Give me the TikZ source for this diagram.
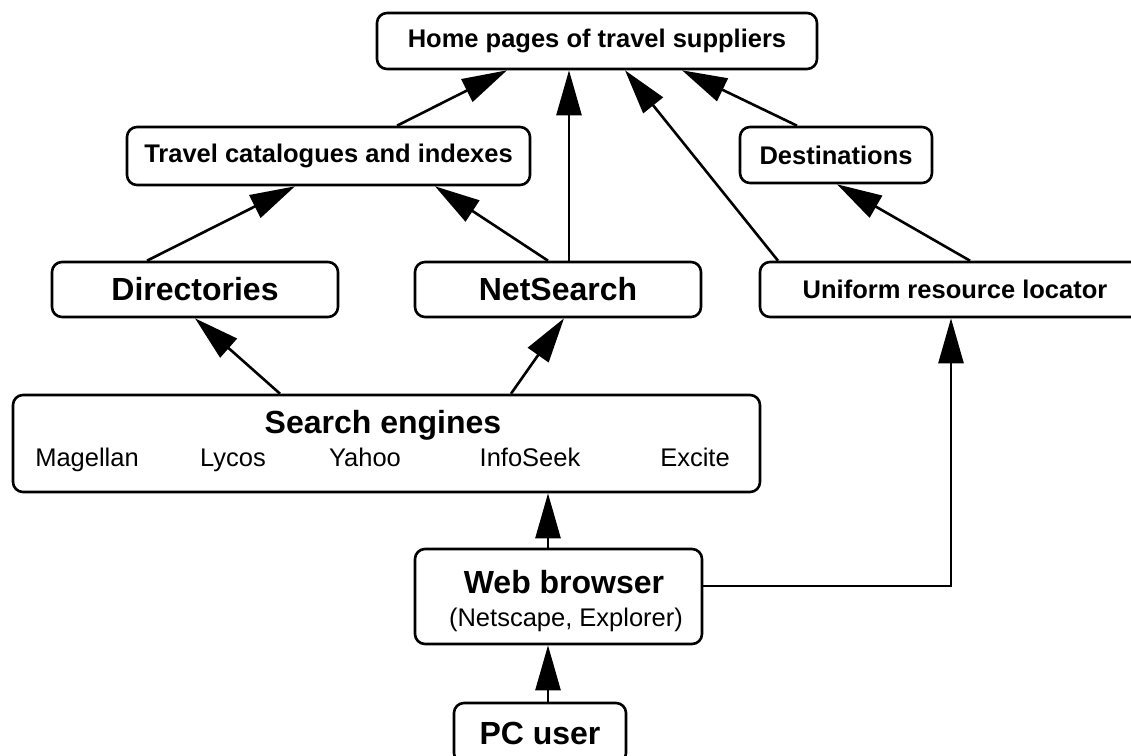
\documentclass[tikz,border=0pt]{standalone}
\usepackage{fontspec}
\setmainfont{Liberation Sans}
\usetikzlibrary{arrows.meta}
\begin{document}
\begin{tikzpicture}[x=1pt,y=-1pt,
  box/.style={draw, line width=2.6pt, rounded corners=10pt, inner sep=0pt, align=center},
  hb/.style={font=\bfseries\fontsize{25.5}{30}\selectfont},
  bb/.style={font=\bfseries\fontsize{32}{38}\selectfont},
  rg/.style={font=\fontsize{25.5}{30}\selectfont, text height=18.5pt, text depth=5.5pt, inner sep=0pt},
  arr/.style={line width=2.6pt, -{Triangle[length=45pt,width=25pt]}}
]
\useasboundingbox (0,0) rectangle (1131,755);
% boxes
\node[box,hb,minimum width=440pt,minimum height=56pt] (home) at (597,41) {Home pages of travel suppliers};
\node[box,hb,minimum width=403pt,minimum height=58pt] (travel) at (328.5,156) {Travel catalogues and indexes};
\node[box,hb,minimum width=192pt,minimum height=56pt] (dest) at (836,155) {Destinations};
\node[box,bb,minimum width=286pt,minimum height=55pt] (dir) at (195,289.5) {Directories};
\node[box,bb,minimum width=286pt,minimum height=55pt] (net) at (558,289.5) {NetSearch};
\node[box,hb,minimum width=390pt,minimum height=55pt] (url) at (955,289.5) {Uniform resource locator};
\node[box,minimum width=747pt,minimum height=97pt] (search) at (386.5,443.5) {};
\node[bb] (setitle) at (383,425) {Search engines};
\node[rg] (mag) at (87,460) {Magellan};
\node[rg] (lyc) at (233,460) {Lycos};
\node[rg] (yah) at (365,460) {Yahoo};
\node[rg] (inf) at (530,460) {InfoSeek};
\node[rg] (exc) at (695,460) {Excite};
\node[box,minimum width=287pt,minimum height=95pt] (web) at (558.5,596.5) {};
\node[bb] (webt) at (564,582) {Web browser};
\node[rg] (webs) at (566,620) {(Netscape, Explorer)};
\node[box,bb,minimum width=172pt,minimum height=60pt] (pc) at (540,733) {PC user};
% connectors
\draw[arr] ([xshift=68.5pt]travel.north) -- ([xshift=-90pt]home.south);
\draw[arr] ([xshift=11pt]net.north) -- ([xshift=-28pt]home.south);
\draw[arr] ([xshift=-177pt]url.north) -- ([xshift=28pt]home.south);
\draw[arr] ([xshift=-39pt]dest.north) -- ([xshift=85pt]home.south);
\draw[arr] ([xshift=-48pt]dir.north) -- ([xshift=-33.5pt]travel.south);
\draw[arr] ([xshift=-10pt]net.north) -- ([xshift=106.5pt]travel.south);
\draw[arr] ([xshift=15pt]url.north) -- ([xshift=1pt]dest.south);
\draw[arr] ([xshift=-106.5pt]search.north) -- (dir.south);
\draw[arr] ([xshift=124.5pt]search.north) -- ([xshift=6pt]net.south);
\draw[arr] ([xshift=-10.5pt]web.north) -- ([xshift=161.5pt]search.south);
\draw[arr] ([xshift=8pt]pc.north) -- ([xshift=-10.5pt]web.south);
\draw[arr] ([yshift=10.5pt]web.east) -| ([xshift=-4pt]url.south);
\end{tikzpicture}
\end{document}
